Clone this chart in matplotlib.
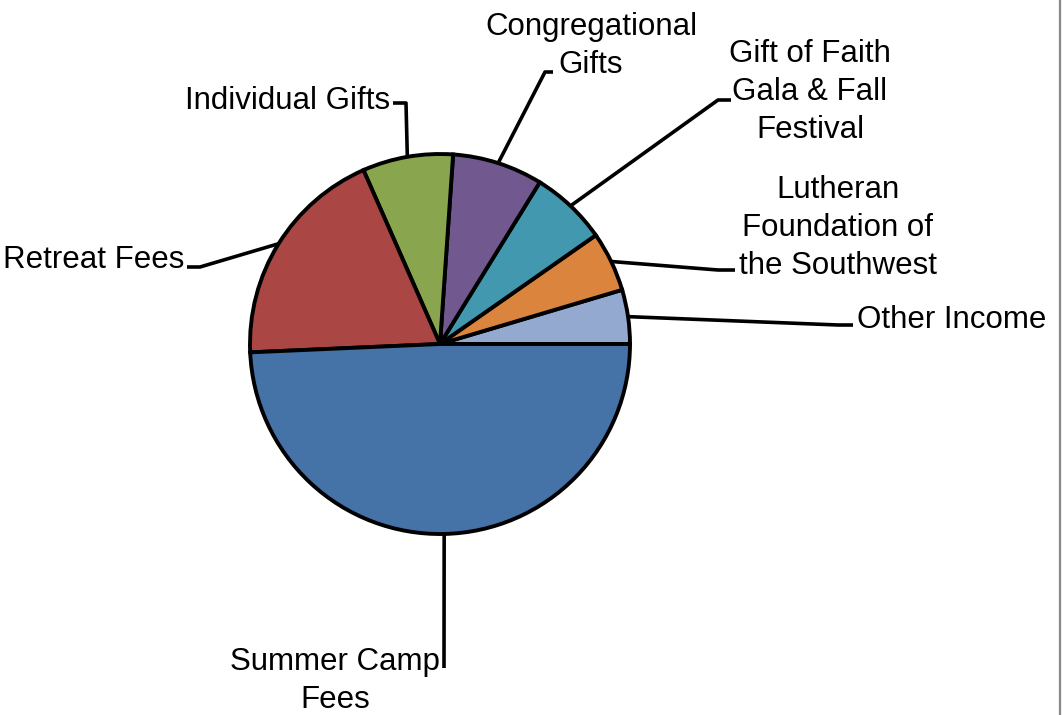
import numpy as np
import matplotlib
matplotlib.use("Agg")
import matplotlib.pyplot as plt

# income shares, counterclockwise from 3 o'clock
labels = ["Other Income", "Lutheran\nFoundation of\nthe Southwest",
          "Gift of Faith\nGala & Fall\nFestival", "Congregational\nGifts",
          "Individual Gifts", "Retreat Fees", "Summer Camp\nFees"]
shares = [4.6, 5.1, 6.5, 7.7, 7.7, 19.1, 49.3]
colors = ["#93A9CF", "#DB843D", "#4198AF", "#71588F", "#89A54E", "#AA4643", "#4572A7"]

W, H = 1062, 715
fig = plt.figure(figsize=(W / 100, H / 100), dpi=100)
ax = fig.add_axes([0, 0, 1, 1])
ax.set_xlim(0, W)
ax.set_ylim(0, H)
ax.set_aspect("equal")
ax.axis("off")

cx, cy, r = 440, H - 344, 190
wedges, _ = ax.pie(shares, colors=colors, startangle=0, counterclock=True,
                   center=(cx, cy), radius=r,
                   wedgeprops=dict(edgecolor="black", linewidth=2.8))
ax.set_xlim(0, W)
ax.set_ylim(0, H)

# leader line elbows, end of short tail, text anchor (image px, y down)
layout = [
    ((838, 325), (853, 325), (857, 320), "left"),
    ((718, 270), (735, 270), (838, 228), "center"),
    ((718, 100), (731, 100), (810, 92), "center"),
    ((545, 72), (553, 72), (591, 46), "center"),
    ((406, 103), (393, 103), (390, 101), "right"),
    ((200, 267), (187, 267), (184, 260), "right"),
    ((444, 668), (444, 668), (335, 681), "center"),
]

for w, lab, (elb, tail, txt, ha) in zip(wedges, labels, layout):
    mid = np.deg2rad((w.theta1 + w.theta2) / 2)
    x0, y0 = cx + r * np.cos(mid), cy + r * np.sin(mid)
    ax.plot([x0, elb[0], tail[0]], [y0, H - elb[1], H - tail[1]],
            color="black", lw=2.6, solid_capstyle="butt", zorder=0)
    ax.text(txt[0], H - txt[1], lab, ha=ha, va="center", multialignment="center",
            fontsize=22.5, family="Liberation Sans", linespacing=1.34)

ax.plot([1060, 1060], [0, H], color="#888888", lw=1.6)

fig.savefig("out.png", dpi=100)
